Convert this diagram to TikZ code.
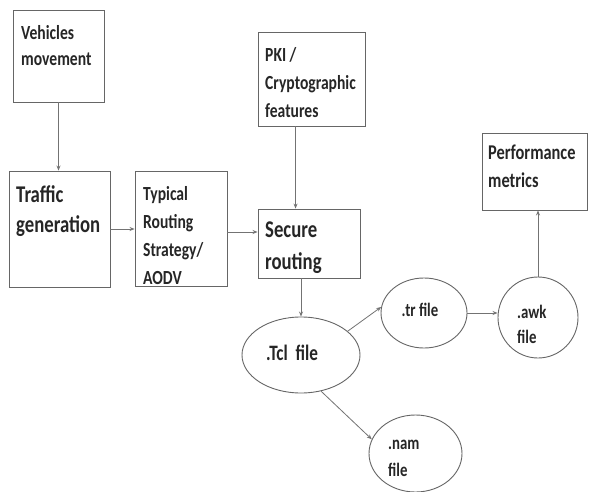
\documentclass[tikz,border=0pt]{standalone}
\usepackage{fontspec}
\usetikzlibrary{arrows.meta,shapes.geometric}
\newfontfamily\flowfont[FakeStretch=0.78]{Carlito}
\tikzset{
  x=1pt, y=-1pt,
  box/.style={draw=black!60, line width=0.9pt, rectangle, inner sep=0pt},
  oval/.style={draw=black!60, line width=0.9pt, ellipse, inner sep=0pt},
  txt/.style={inner sep=0pt, align=left, text=black!85, font=\flowfont\bfseries},
  flow/.style={draw=black!55, line width=0.8pt, -{Stealth[length=5pt,width=4pt]}},
}
\begin{document}
\begin{tikzpicture}
\useasboundingbox[fill=white] (0,0) rectangle (589,492);

% rectangular steps
\node[box, minimum width=91pt, minimum height=92pt] (veh) at (58.5,56) {};
\node[box, minimum width=101pt, minimum height=116pt] (traf) at (59.5,229) {};
\node[box, minimum width=92pt, minimum height=115pt] (typ) at (181,228.5) {};
\node[box, minimum width=102pt, minimum height=69pt] (sec) at (309,243.5) {};
\node[box, minimum width=107pt, minimum height=94pt] (pki) at (311.5,79) {};
\node[box, minimum width=105pt, minimum height=77pt] (perf) at (534.5,171.5) {};

% their captions
\node[txt, anchor=north west, font=\flowfont\bfseries\fontsize{20}{26}\selectfont] (vehT) at (21,25) {Vehicles\\movement};
\node[txt, anchor=north west, font=\flowfont\bfseries\fontsize{24}{30}\selectfont] (trafT) at (16,185) {Traffic\\generation};
\node[txt, anchor=north west, font=\flowfont\bfseries\fontsize{20}{28}\selectfont] (typT) at (143,186) {Typical\\Routing\\Strategy/\\AODV};
\node[txt, anchor=north west, font=\flowfont\bfseries\fontsize{24}{32}\selectfont] (secT) at (265,222) {Secure\\routing};
\node[txt, anchor=north west, font=\flowfont\bfseries\fontsize{20}{28}\selectfont] (pkiT) at (265,47) {PKI /\\Cryptographic\\features};
\node[txt, anchor=north west, font=\flowfont\bfseries\fontsize{21}{28}\selectfont] (perfL) at (488,145) {Performance\\metrics};

% generated files
\node[oval, minimum width=118pt, minimum height=76pt] (tcl) at (301,355) {};
\node[oval, minimum width=86pt, minimum height=70pt] (tr) at (424,313) {};
\node[oval, minimum width=80pt, minimum height=81pt] (awk) at (538,317.5) {};
\node[oval, minimum width=93pt, minimum height=77pt] (nam) at (415.5,453.5) {};

\node[txt, font=\flowfont\bfseries\fontsize{22}{26}\selectfont] (tclT) at (292,353) {.Tcl\ \ file};
\node[txt, font=\flowfont\bfseries\fontsize{19}{24}\selectfont] (trT) at (420,310) {.tr file};
\node[txt, anchor=north west, font=\flowfont\bfseries\fontsize{19}{25}\selectfont] (awkT) at (517,305) {.awk\\file};
\node[txt, anchor=north west, font=\flowfont\bfseries\fontsize{19}{27}\selectfont] (namT) at (388,440) {.nam\\file};

% connectors
\draw[flow] (veh.south) -- (veh.south |- traf.north);
\draw[flow] (traf.east) -- (traf.east -| typ.west);
\draw[flow] ([yshift=-3.5pt]typ.east) -- ([yshift=-3.5pt]typ.east -| sec.west);
\draw[flow] ([xshift=38pt]pki.south west) -- ([xshift=38pt]pki.south west |- sec.north);
\draw[flow] (tcl.north |- sec.south) -- (tcl.north);
\draw[flow] (tcl.27) -- (tr.172);
\draw[flow] (tr.east) -- (tr.east -| awk.west);
\draw[flow] (awk.north) -- (awk.north |- perf.south);
\draw[flow] (tcl.-61) -- (nam.162);
\end{tikzpicture}
\end{document}
